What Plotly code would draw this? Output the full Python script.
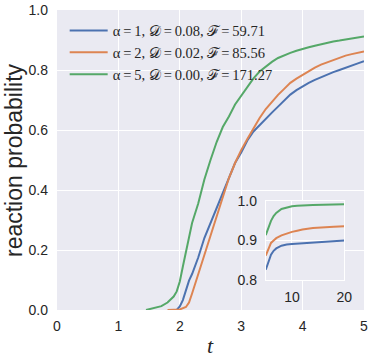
import plotly.graph_objects as go

# main panel data
t_blue = [1.95, 2.0, 2.05, 2.1, 2.15, 2.2, 2.3, 2.4, 2.5, 2.6, 2.7, 2.8, 2.9, 3.0, 3.1, 3.2, 3.3, 3.4, 3.5,
          3.6, 3.7, 3.8, 3.9, 4.0, 4.1, 4.2, 4.3, 4.4, 4.5, 4.6, 4.7, 4.8, 4.9, 5.0]
p_blue = [0.0, 0.012, 0.033, 0.065, 0.098, 0.12, 0.175, 0.24, 0.29, 0.345, 0.395, 0.445, 0.49, 0.525, 0.565,
          0.595, 0.617, 0.638, 0.658, 0.678, 0.698, 0.718, 0.733, 0.746, 0.757, 0.767, 0.776, 0.784, 0.793,
          0.8, 0.808, 0.815, 0.822, 0.829]

t_orange = [1.8, 1.9, 2.0, 2.1, 2.15, 2.2, 2.3, 2.4, 2.5, 2.6, 2.7, 2.8, 2.9, 3.0, 3.1, 3.2, 3.3, 3.4, 3.5,
            3.6, 3.7, 3.8, 3.9, 4.0, 4.1, 4.2, 4.3, 4.4, 4.5, 4.6, 4.7, 4.8, 4.9, 5.0]
p_orange = [0.0, 0.0, 0.002, 0.01, 0.025, 0.055, 0.12, 0.185, 0.245, 0.31, 0.38, 0.44, 0.49, 0.533, 0.57,
            0.605, 0.64, 0.67, 0.695, 0.717, 0.737, 0.757, 0.771, 0.784, 0.796, 0.808, 0.818, 0.826, 0.834,
            0.842, 0.848, 0.853, 0.858, 0.862]

t_green = [1.45, 1.5, 1.6, 1.7, 1.8, 1.9, 1.95, 2.0, 2.05, 2.1, 2.2, 2.3, 2.4, 2.5, 2.6, 2.7, 2.8, 2.9, 3.0,
           3.1, 3.2, 3.3, 3.4, 3.5, 3.6, 3.7, 3.8, 3.9, 4.0, 4.1, 4.2, 4.3, 4.4, 4.5, 4.6, 4.7, 4.8, 4.9, 5.0]
p_green = [0.0, 0.003, 0.007, 0.013, 0.025, 0.045, 0.062, 0.095, 0.145, 0.19, 0.29, 0.355, 0.435, 0.5, 0.56,
           0.61, 0.645, 0.685, 0.715, 0.745, 0.772, 0.795, 0.812, 0.827, 0.84, 0.849, 0.857, 0.864, 0.871,
           0.876, 0.881, 0.886, 0.89, 0.895, 0.898, 0.902, 0.905, 0.909, 0.912]

# inset data
t_inset = [5, 5.5, 6, 6.5, 7, 8, 9, 10, 11, 12, 14, 16, 18, 20]
i_blue = [0.826, 0.848, 0.864, 0.874, 0.880, 0.887, 0.890, 0.891, 0.892, 0.893, 0.895, 0.897, 0.899, 0.900]
i_orange = [0.862, 0.880, 0.894, 0.900, 0.906, 0.913, 0.918, 0.922, 0.925, 0.928, 0.932, 0.934, 0.935, 0.936]
i_green = [0.914, 0.935, 0.950, 0.962, 0.970, 0.980, 0.984, 0.987, 0.988, 0.989, 0.990, 0.991, 0.991, 0.992]

labels = ["α\u2009=\u20091, 𝒟\u2009=\u20090.08, ℱ\u2009=\u200959.71",
          "α\u2009=\u20092, 𝒟\u2009=\u20090.02, ℱ\u2009=\u200985.56",
          "α\u2009=\u20095, 𝒟\u2009=\u20090.00, ℱ\u2009=\u2009171.27"]
colors = ["#4C72B0", "#DD8452", "#55A868"]

x_ticks = [0, 1, 2, 3, 4, 5]
y_ticks = [0.0, 0.2, 0.4, 0.6, 0.8, 1.0]
y_tick_text = ["0.0", "0.2", "0.4", "0.6", "0.8", "1.0"]
inset_x_ticks = [10, 20]
inset_y_ticks = [0.8, 0.9, 1.0]
inset_y_text = ["0.8", "0.9", "1.0"]
x_title = "<i>t</i>"
y_title = "reaction probability"

fig = go.Figure()
main = [(t_blue, p_blue), (t_orange, p_orange), (t_green, p_green)]
for (tx, py), lab, c in zip(main, labels, colors):
    fig.add_trace(go.Scatter(x=tx, y=py, mode="lines", name=lab,
                             line=dict(color=c, width=2), xaxis="x", yaxis="y"))
for iy, c in zip([i_blue, i_orange, i_green], colors):
    fig.add_trace(go.Scatter(x=t_inset, y=iy, mode="lines", showlegend=False,
                             line=dict(color=c, width=2), xaxis="x2", yaxis="y2"))

tickfont = dict(family="Liberation Sans", size=14, color="#262626")
fig.update_layout(
    width=374, height=360,
    margin=dict(l=57, r=10, t=10, b=50, autoexpand=False),
    paper_bgcolor="white", plot_bgcolor="#EAEAF2",
    showlegend=True,
    legend=dict(x=0.025, y=0.985, xanchor="left", yanchor="top",
                bgcolor="rgba(0,0,0,0)", borderwidth=0,
                font=dict(family="Liberation Serif", size=14.5, color="#262626"),
                itemwidth=38),
    xaxis=dict(domain=[0, 1], range=[0, 5], tickvals=x_ticks, showgrid=True, gridcolor="white",
               gridwidth=1, zeroline=False, showline=False, ticks="", tickfont=tickfont,
               automargin=False, ticklabelstandoff=6),
    yaxis=dict(domain=[0, 1], range=[0, 1], tickvals=y_ticks, ticktext=y_tick_text, showgrid=True,
               gridcolor="white", gridwidth=1, zeroline=False, showline=False, ticks="", tickfont=tickfont,
               automargin=False, ticklabelstandoff=8),
    xaxis2=dict(domain=[0.68, 0.936], anchor="y2", range=[5, 20], tickvals=inset_x_ticks, showgrid=True,
                gridcolor="white", zeroline=False, showline=True, linecolor="white", mirror=True,
                ticks="", tickfont=tickfont, automargin=False, ticklabelstandoff=4),
    yaxis2=dict(domain=[0.1, 0.363], anchor="x2", range=[0.8, 1.0], tickvals=inset_y_ticks,
                ticktext=inset_y_text, showgrid=True, gridcolor="white", zeroline=False, showline=True,
                linecolor="white", mirror=True, ticks="", tickfont=tickfont, automargin=False,
                ticklabelstandoff=5),
    annotations=[
        dict(text=x_title, xref="paper", yref="paper", x=0.5, y=-0.117, xanchor="center",
             yanchor="middle", showarrow=False,
             font=dict(family="Liberation Serif", size=22, color="#262626")),
        dict(text=y_title, xref="paper", yref="paper", x=-0.14, y=0.5, xanchor="center",
             yanchor="middle", textangle=-90, showarrow=False,
             font=dict(family="Liberation Sans", size=23, color="#262626")),
    ],
)

fig.write_html("out.html", config={"displayModeBar": False},
               post_script="document.body.style.margin='0';")
